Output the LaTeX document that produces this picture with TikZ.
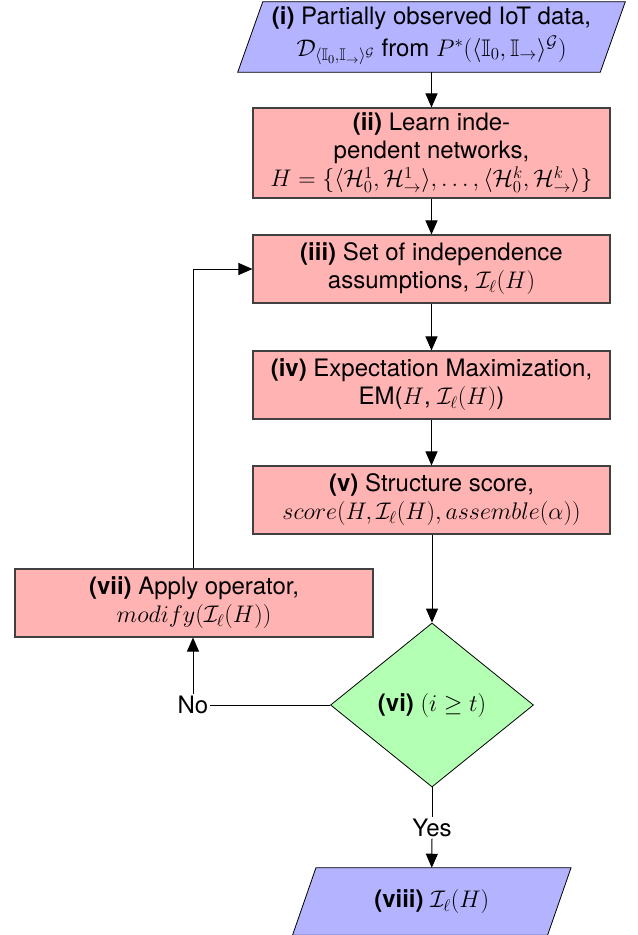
\documentclass[tikz,border=0pt]{standalone}
\usepackage{fix-cm}
\usepackage{amsmath,amssymb}
\usepackage[no-math]{fontspec}
\setmainfont{TeX Gyre Heros}
\usetikzlibrary{arrows.meta,shapes.geometric}
\definecolor{boxpink}{HTML}{FFB3B3}
\definecolor{boxblue}{HTML}{B3B3FF}
\definecolor{boxgreen}{HTML}{B3FFB3}
\definecolor{edgegray}{HTML}{404040}
\tikzset{
  every node/.style={font=\fontsize{18}{21}\selectfont},
  procbox/.style={rectangle, draw=edgegray, fill=boxpink, line width=0.8pt, align=center,
    minimum width=267.75pt, inner sep=2pt},
  iobox/.style={rectangle, align=center, inner sep=2pt},
  iofill/.style={fill=boxblue, draw=black, line width=0.6pt},
  decbox/.style={diamond, draw=black, fill=boxgreen, line width=0.6pt, align=center,
    minimum width=152.25pt, minimum height=123pt, inner sep=0pt, aspect=1.24},
  lbl/.style={inner sep=1pt},
  flow/.style={line width=0.75pt, -{Triangle[length=10.5pt,width=9pt]}},
  plain/.style={line width=0.75pt},
}
\begin{document}
\begin{tikzpicture}[x=0.75pt,y=-0.75pt]
\useasboundingbox (0,0) rectangle (637,935);
% (i)
\node[iobox, minimum width=271.5pt, minimum height=52.5pt] (i) at (431.5,37) {};
\filldraw[iofill]
  ([xshift=9.4pt]i.north west) -- ([xshift=9.4pt]i.north east) --
  ([xshift=-9.4pt]i.south east) -- ([xshift=-9.4pt]i.south west) -- cycle;
\node[iobox] (itext) at ([yshift=1pt]i.center)
  {\textbf{(i)} Partially observed IoT data,\\[3pt]
   $\mathcal{D}_{\langle \mathbb{I}_0, \mathbb{I}_\rightarrow\rangle^{\mathcal{G}}}$ from $P^*(\langle \mathbb{I}_0, \mathbb{I}_\rightarrow\rangle^{\mathcal{G}})$};
% (ii)
\node[procbox, minimum height=67.5pt] (ii) at (431.5,153)
  {\textbf{(ii)} Learn inde-\\ pendent networks,\\
   $H=\{\langle\mathcal{H}_0^1,\mathcal{H}_\rightarrow^1\rangle,\ldots,\langle\mathcal{H}_0^k,\mathcal{H}_\rightarrow^k\rangle\}$};
% (iii)
\node[procbox, minimum height=51pt] (iii) at (431.5,269)
  {\textbf{(iii)} Set of independence\\ assumptions, $\mathcal{I}_\ell(H)$};
% (iv)
\node[procbox, minimum height=51pt] (iv) at (431.5,385)
  {\textbf{(iv)} Expectation Maximization,\\ EM($H$, $\mathcal{I}_\ell(H)$)};
% (v)
\node[procbox, minimum height=51pt] (v) at (431.5,500)
  {\textbf{(v)} Structure score,\\ $score(H,\mathcal{I}_\ell(H),assemble(\alpha))$};
% (vi)
\node[decbox] (vi) at (432,705) {\textbf{(vi)} $(i\geq t)$};
% (vii)
\node[procbox, minimum width=268.5pt, minimum height=51pt] (vii) at (194,603)
  {\textbf{(vii)} Apply operator,\\ $modify(\mathcal{I}_\ell(H))$};
% labels
\node[lbl] (no) at (193,705) {No};
\node[lbl] (yes) at (432,828) {Yes};
% (viii)
\node[iobox, minimum width=190.9pt, minimum height=50.25pt] (viii) at (431.75,901.5) {};
\filldraw[iofill]
  ([xshift=8.8pt]viii.north west) -- ([xshift=8.8pt]viii.north east) --
  ([xshift=-8.8pt]viii.south east) -- ([xshift=-8.8pt]viii.south west) -- cycle;
\node[iobox] (viiitext) at (viii.center) {\textbf{(viii)} $\mathcal{I}_\ell(H)$};
% connectors
\draw[flow] (i.south) -- (ii.north);
\draw[flow] (ii.south) -- (iii.north);
\draw[flow] (iii.south) -- (iv.north);
\draw[flow] (iv.south) -- (v.north);
\draw[flow] (v.south -| vi.north) -- (vi.north);
\draw[plain] (vi.west) -- (no.east);
\draw[flow] (no.north) -- (vii.south -| no.north);
\draw[flow] (vii.north -| no.north) |- (iii.west);
\draw[plain] (vi.south) -- (yes.north);
\draw[flow] (yes.south) -- (viii.north);
\end{tikzpicture}
\end{document}
